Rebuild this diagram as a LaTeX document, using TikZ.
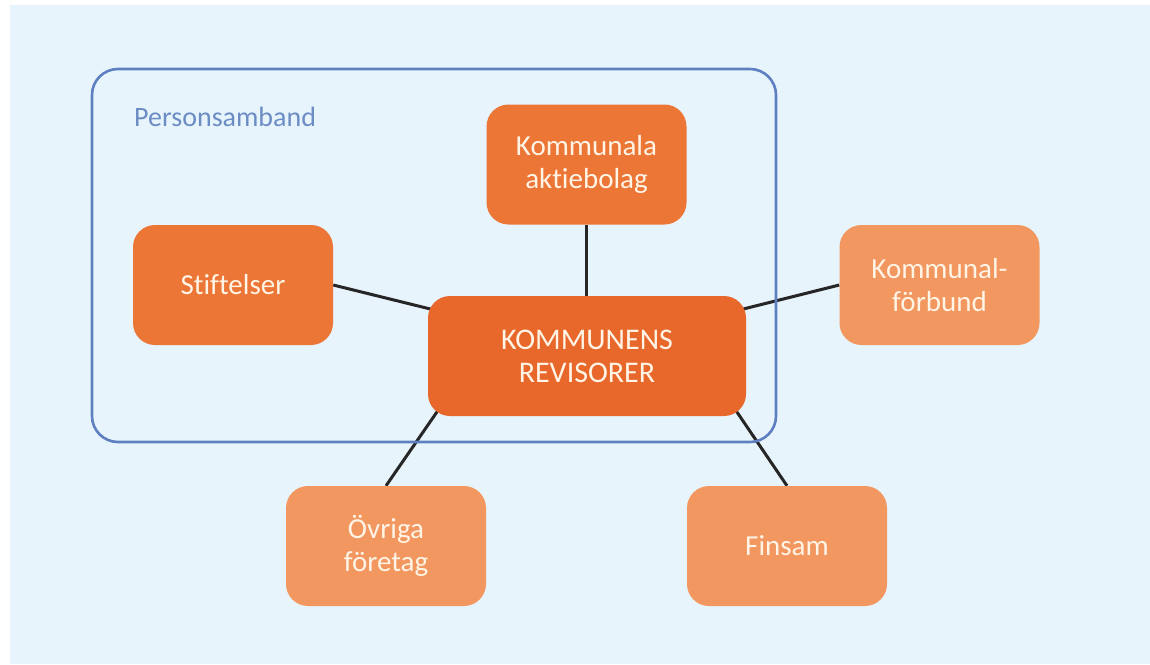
\documentclass[tikz,border=0pt]{standalone}
\usepackage{fontspec}
\setmainfont{Carlito}[Ligatures=NoCommon]
\usetikzlibrary{calc}
\pgfdeclarelayer{bgl}
\pgfdeclarelayer{lines}
\pgfsetlayers{bgl,lines,main}
\definecolor{bgblue}{HTML}{E7F4FC}
\definecolor{frameblue}{HTML}{5E80C0}
\definecolor{labelblue}{HTML}{6C8CC4}
\definecolor{orangedark}{HTML}{EC7636}
\definecolor{orangemain}{HTML}{E8672A}
\definecolor{orangelight}{HTML}{F2975F}
\definecolor{boxtext}{HTML}{FFF4E6}
\tikzset{
  box/.style={rectangle, rounded corners=22pt, minimum width=200pt, minimum height=120pt,
    align=center, text=boxtext, font=\fontsize{29}{33}\selectfont, inner sep=0pt},
  darkbox/.style={box, fill=orangedark},
  lightbox/.style={box, fill=orangelight},
  mainbox/.style={box, fill=orangemain, minimum width=318pt, minimum height=120pt,
    font=\fontsize{30}{33}\selectfont},
  link/.style={draw=black!85, line width=3pt},
  frame/.style={draw=frameblue, line width=2.6pt, rounded corners=26pt}
}
\begin{document}
\begin{tikzpicture}[x=1pt,y=-1pt]
\useasboundingbox (0,0) rectangle (1150,664);
\begin{pgfonlayer}{bgl}
\fill[bgblue] (10,5) rectangle (1150,664);
\end{pgfonlayer}
\node[frame, minimum width=684pt, minimum height=373pt, inner sep=0pt] (frm) at (434,255.5) {};
\node[text=labelblue, font=\fontsize{28}{32}\selectfont, anchor=west, inner sep=0pt] (ps) at (134,117) {Personsamband};
\node[mainbox] (main) at (587,356) {KOMMUNENS\\REVISORER};
\node[darkbox] (stif) at (233,285) {Stiftelser};
\node[darkbox] (kab) at (586.5,164.5) {Kommunala\\aktiebolag};
\node[lightbox] (kf) at (939.5,285) {Kommunal-\\förbund};
\node[lightbox] (ov) at (386,546) {Övriga\\företag};
\node[lightbox] (fin) at (787,546) {Finsam};
\begin{pgfonlayer}{lines}
\coordinate (m1) at ($(main.north west)+(22,18)$);
\coordinate (m2) at ($(main.north east)+(-22,18)$);
\coordinate (m3) at ($(main.south west)+(20,-20)$);
\coordinate (m4) at ($(main.south east)+(-20,-20)$);
\draw[link] (stif.east) -- (m1);
\draw[link] (kab.south) -- (kab.south |- main.north);
\draw[link] (kf.west) -- (m2);
\draw[link] (ov.north) -- (m3);
\draw[link] (fin.north) -- (m4);
\end{pgfonlayer}
\end{tikzpicture}
\end{document}
